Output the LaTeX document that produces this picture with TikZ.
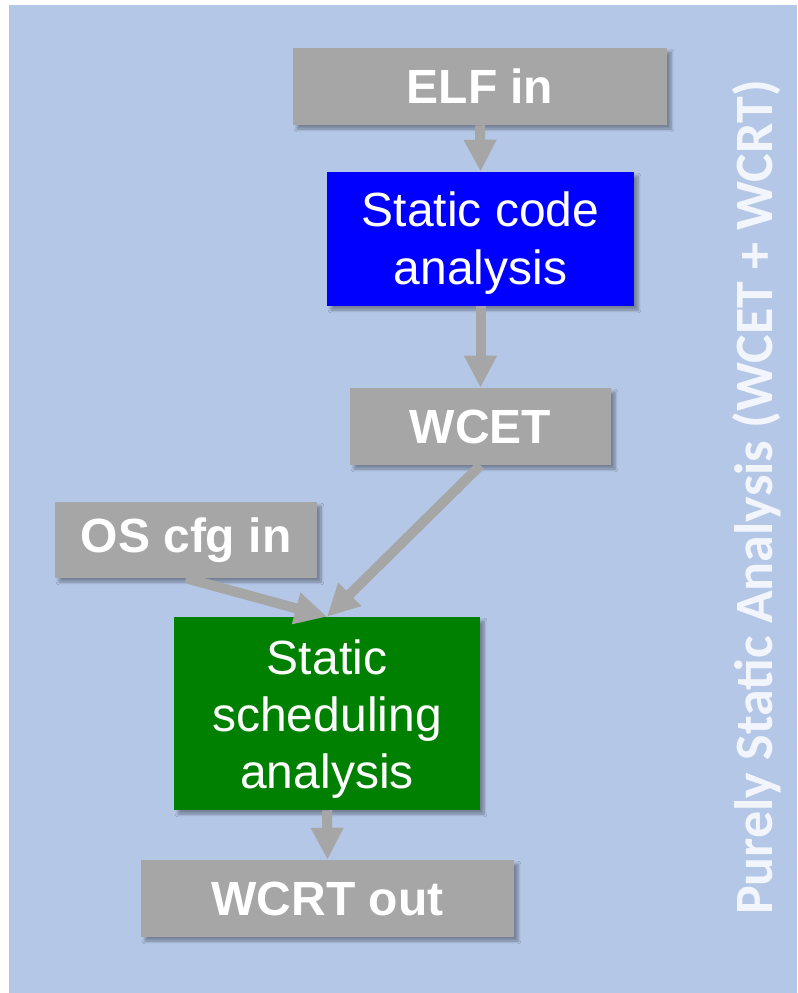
\documentclass[tikz,border=0pt]{standalone}
\usepackage{fontspec}
\setmainfont{Liberation Sans}
\newfontfamily\calibb{Carlito}[UprightFont=*-Bold]
\usetikzlibrary{arrows.meta,shadows.blur}
\definecolor{bgblue}{HTML}{B4C7E7}
\definecolor{boxgray}{HTML}{A6A6A6}
\definecolor{boxblue}{HTML}{0000FF}
\definecolor{boxgreen}{HTML}{008000}
\definecolor{vtext}{HTML}{F2F6FC}
\tikzset{
  box/.style={rectangle, inner sep=0pt, text=white, align=center,
    font=\fontsize{36}{43}\selectfont,
    blur shadow={shadow xshift=3pt, shadow yshift=-3pt, shadow opacity=35, shadow blur steps=6}},
  graybox/.style={box, fill=boxgray, font=\fontsize{36}{43}\selectfont\bfseries},
  boxtext/.style={text=white, align=center, inner sep=0pt, font=\fontsize{36}{43}\selectfont},
  flow/.style={draw=boxgray, line width=7.5pt, -{Triangle[width=23pt,length=24pt]}}
}
\begin{document}
\begin{tikzpicture}[x=0.75pt,y=-0.75pt]
\useasboundingbox (0,0) rectangle (797,993);
\fill[bgblue] (9,5) rectangle (797,993);
\node[graybox, minimum width=280.5pt, minimum height=57.75pt] (elf) at (480,86.5) {ELF in};
\node[box, fill=boxblue, minimum width=230.25pt, minimum height=100.5pt] (sca) at (480.5,239) {};
\node[boxtext] (scat) at (480.5,243) {Static code\\analysis};
\node[graybox, minimum width=195.75pt, minimum height=57.75pt] (wcet) at (480.5,426.5) {WCET};
\node[graybox, minimum width=196.5pt, minimum height=57pt] (os) at (186,540) {OS cfg in};
\node[box, fill=boxgreen, minimum width=229.5pt, minimum height=144.75pt] (ssa) at (327,713.5) {};
\node[boxtext] (ssat) at (327,719) {Static\\scheduling\\analysis};
\node[graybox, minimum width=279.75pt, minimum height=57.75pt] (wcrt) at (327.5,898.5) {WCRT out};
\node[rotate=90, text=vtext, font=\calibb\fontsize{40.5}{44}\selectfont] (title) at (757,497.5) {Purely Static Analysis (WCET + WCRT)};
\draw[flow] (elf.south) -- (sca.north);
\draw[flow] (sca.south) -- (wcet.north);
\draw[flow] (wcet.south) -- (ssa.north);
\draw[flow] (os.south) -- (ssa.north);
\draw[flow] (ssa.south) -- (wcrt.north);
\end{tikzpicture}
\end{document}
